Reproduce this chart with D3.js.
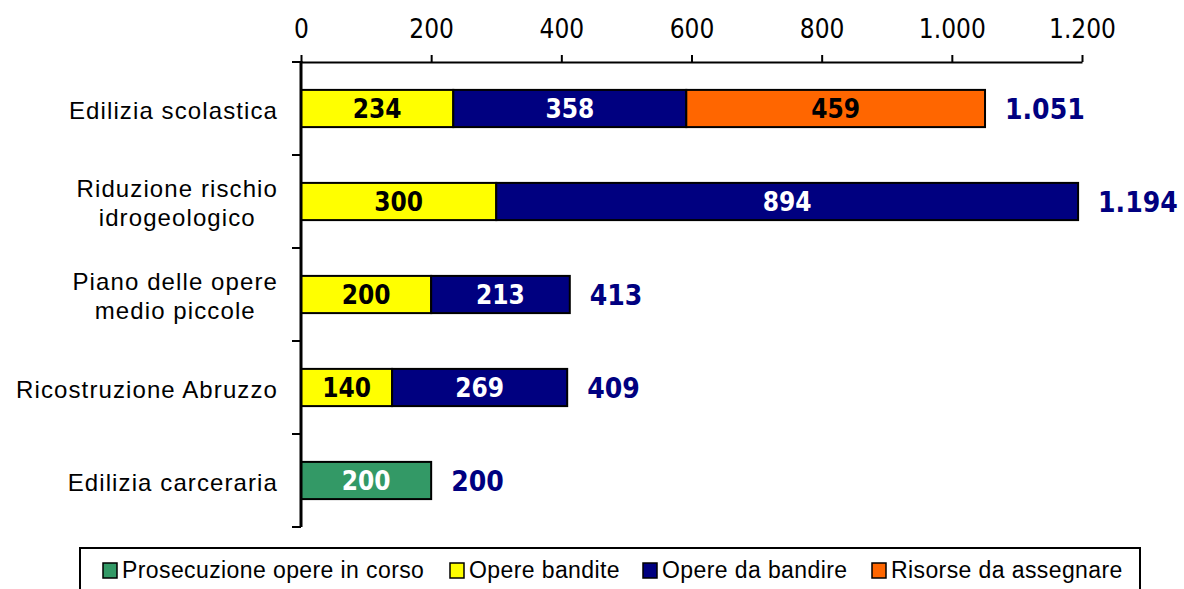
<!DOCTYPE html>
<html>
<head>
<meta charset="utf-8">
<script src="https://cdn.jsdelivr.net/npm/d3@7"></script>
<style>
  body { margin: 0; background: #fff; }
  svg { display: block; }
</style>
</head>
<body>
<svg id="chart" width="1184" height="589"></svg>
<script>
// data
const categories = ["Edilizia scolastica", "Riduzione rischio\nidrogeologico", "Piano delle opere\nmedio piccole", "Ricostruzione Abruzzo", "Edilizia carceraria"];
const seriesNames = ["Prosecuzione opere in corso", "Opere bandite", "Opere da bandire", "Risorse da assegnare"];
const prosecuzione = [0, 0, 0, 0, 200];
const bandite = [234, 300, 200, 140, 0];
const daBandire = [358, 894, 213, 269, 0];
const risorse = [459, 0, 0, 0, 0];
const tickValues = [0, 200, 400, 600, 800, 1000, 1200];

const colors = ["#339966", "#FFFF00", "#000080", "#FF6600"];
const textColors = ["#fff", "#000", "#fff", "#000"];
const numFont = "'DejaVu Sans Condensed', 'DejaVu Sans', Verdana, sans-serif";
const txtFont = "'Liberation Sans', Arial, sans-serif";

const it = d3.formatLocale({decimal: ",", thousands: ".", grouping: [3], currency: ["", " €"]});
const fmt = it.format(",");

const rows = categories.map((c, i) => ({
  cat: c, s0: prosecuzione[i], s1: bandite[i], s2: daBandire[i], s3: risorse[i]
}));
const keys = ["s0", "s1", "s2", "s3"];
const stacked = d3.stack().keys(keys)(rows);

const svg = d3.select("#chart");
const plotL = 301, plotR = 1082, plotT = 62, plotB = 527;

const x = d3.scaleLinear().domain([0, 1200]).range([plotL, plotR]);
const y = d3.scaleBand().domain(categories).range([plotT, plotB]).paddingInner(0.6).paddingOuter(0.3);
const yb = d3.scaleBand().domain(categories).range([plotT, plotB]);

// bars
const g = svg.append("g");
stacked.forEach((layer, k) => {
  g.selectAll(".bar" + k)
    .data(layer.filter(d => d[1] - d[0] > 0))
    .enter().append("rect")
    .attr("x", d => x(d[0]))
    .attr("y", d => y(d.data.cat))
    .attr("width", d => x(d[1]) - x(d[0]))
    .attr("height", y.bandwidth())
    .attr("fill", colors[k])
    .attr("stroke", "#000")
    .attr("stroke-width", 2);

  g.selectAll(".lab" + k)
    .data(layer.filter(d => d[1] - d[0] > 0))
    .enter().append("text")
    .attr("x", d => (x(d[0]) + x(d[1])) / 2)
    .attr("y", d => y(d.data.cat) + y.bandwidth() / 2)
    .attr("dy", "0.37em")
    .attr("text-anchor", "middle")
    .attr("font-family", numFont)
    .attr("font-weight", "bold")
    .attr("font-size", 26)
    .attr("fill", textColors[k])
    .text(d => fmt(d[1] - d[0]));
});

// totals
g.selectAll(".total")
  .data(rows)
  .enter().append("text")
  .attr("x", d => x(d.s0 + d.s1 + d.s2 + d.s3) + 20)
  .attr("y", d => y(d.cat) + y.bandwidth() / 2)
  .attr("dy", "0.37em")
  .attr("font-family", numFont)
  .attr("font-weight", "bold")
  .attr("font-size", 28)
  .attr("fill", "#000080")
  .text(d => fmt(d.s0 + d.s1 + d.s2 + d.s3));

// top axis
const xAxis = svg.append("g")
  .attr("transform", `translate(0,${plotT})`)
  .call(d3.axisTop(x).tickValues(tickValues).tickFormat(fmt).tickSizeInner(7).tickSizeOuter(0).tickPadding(17));
xAxis.select(".domain").attr("stroke", "#000").attr("stroke-width", 2);
xAxis.selectAll(".tick line").attr("stroke", "#000").attr("stroke-width", 2);
xAxis.selectAll("text")
  .attr("font-family", numFont)
  .attr("font-size", 26)
  .attr("fill", "#000");

// left axis with ticks at category boundaries
svg.append("line")
  .attr("x1", plotL).attr("x2", plotL).attr("y1", plotT - 1).attr("y2", plotB)
  .attr("stroke", "#000").attr("stroke-width", 3);
const bounds = [plotT].concat(categories.map(c => yb(c) + yb.bandwidth()));
svg.selectAll(".ytick")
  .data(bounds)
  .enter().append("line")
  .attr("x1", plotL - 9).attr("x2", plotL)
  .attr("y1", d => d).attr("y2", d => d)
  .attr("stroke", "#000").attr("stroke-width", 2);

// category labels: block right-aligned, lines centred inside it
const catG = svg.append("g");
categories.forEach(c => {
  const lines = c.split("\n");
  const t = catG.append("text")
    .attr("font-family", txtFont)
    .attr("font-size", 24)
    .attr("letter-spacing", 1.1)
    .attr("fill", "#000")
    .attr("text-anchor", "middle");
  lines.forEach(ln => t.append("tspan").text(ln));
  const widths = [];
  t.selectAll("tspan").each(function() { widths.push(this.getComputedTextLength()); });
  const w = d3.max(widths);
  const cx = 278 - w / 2;
  const lh = 29;
  const cy = yb(c) + yb.bandwidth() / 2 + 2;
  t.selectAll("tspan")
    .attr("x", cx)
    .attr("y", (d, i) => cy - (lines.length - 1) * lh / 2 + i * lh)
    .attr("dy", "0.35em");
});

// legend
const lg = svg.append("g");
lg.append("rect")
  .attr("x", 80).attr("y", 548).attr("width", 1060).attr("height", 60)
  .attr("fill", "#fff").attr("stroke", "#000").attr("stroke-width", 2);
const legendX = [103, 450, 643, 872];
seriesNames.forEach((name, i) => {
  lg.append("rect")
    .attr("x", legendX[i]).attr("y", 563).attr("width", 14).attr("height", 15)
    .attr("fill", colors[i]).attr("stroke", "#000").attr("stroke-width", 1.5);
  lg.append("text")
    .attr("x", legendX[i] + 19).attr("y", 578)
    .attr("font-family", txtFont)
    .attr("font-size", 23)
    .attr("letter-spacing", 0.4)
    .attr("fill", "#000")
    .text(name);
});
</script>
</body>
</html>
